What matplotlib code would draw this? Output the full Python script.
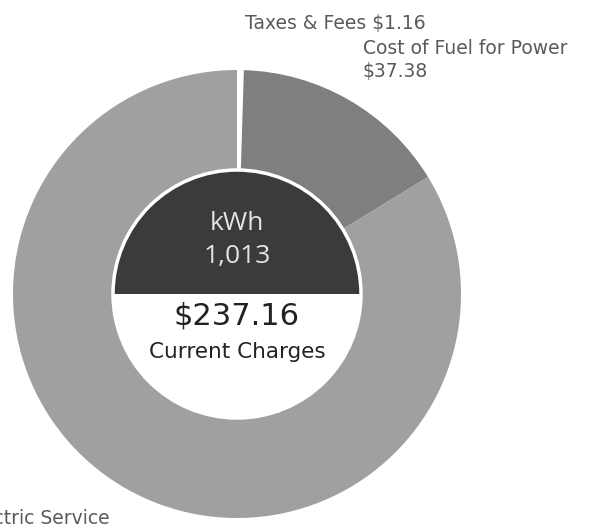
import matplotlib.pyplot as plt
from matplotlib.patches import Wedge, Circle

# bill breakdown
labels = ['Taxes & Fees', 'Cost of Fuel for Power', 'Electric Service']
amounts = [1.16, 37.38, 198.62]
colors = ['white', '#7f7f7f', '#a0a0a0']
total_text = '$237.16'
kwh_text = '1,013'

W, H = 597, 529
fig = plt.figure(figsize=(W / 100, H / 100), dpi=100)
ax = fig.add_axes([0, 0, 1, 1])
plt.rcParams['font.family'] = ['DejaVu Sans']

cx, cy = 237, H - 294
R = 224
r_in = 125

ax.pie(amounts, colors=colors, startangle=90, counterclock=False,
       radius=R, center=(cx, cy), frame=True,
       wedgeprops=dict(width=R - r_in, linewidth=0))

# inner disc: dark top half, white bottom half, white rim
ax.add_patch(Wedge((cx, cy), r_in - 1, 0, 180, facecolor='#3b3b3b', linewidth=0))
ax.add_patch(Wedge((cx, cy), r_in - 1, 180, 360, facecolor='white', linewidth=0))
ax.add_patch(Circle((cx, cy), r_in - 1, fill=False, edgecolor='white', linewidth=2.5))

ax.text(cx, H - 224, 'kWh', color='#e4e4e4', fontsize=19, ha='center', va='center',
        family='Open Sans')
ax.text(cx, H - 256, kwh_text, color='#e4e4e4', fontsize=19, ha='center', va='center',
        family='Open Sans')
ax.text(cx, H - 316, total_text, color='#222222', fontsize=22, ha='center', va='center')
ax.text(cx, H - 352, 'Current Charges', color='#222222', fontsize=15.5, ha='center', va='center')

lab_col = '#5a5a5a'
ax.text(245, H - 23, 'Taxes & Fees $%.2f' % amounts[0], color=lab_col, fontsize=13.5,
        ha='left', va='center')
ax.text(363, H - 48, labels[1], color=lab_col, fontsize=13.5, ha='left', va='center')
ax.text(363, H - 71, '$%.2f' % amounts[1], color=lab_col, fontsize=13.5, ha='left', va='center')
ax.text(110, H - 518, labels[2], color=lab_col, fontsize=13.5, ha='right', va='center')

ax.set_xlim(0, W)
ax.set_ylim(0, H)
ax.set_aspect('auto')
ax.axis('off')

fig.savefig('out.png', dpi=100, facecolor='white')
